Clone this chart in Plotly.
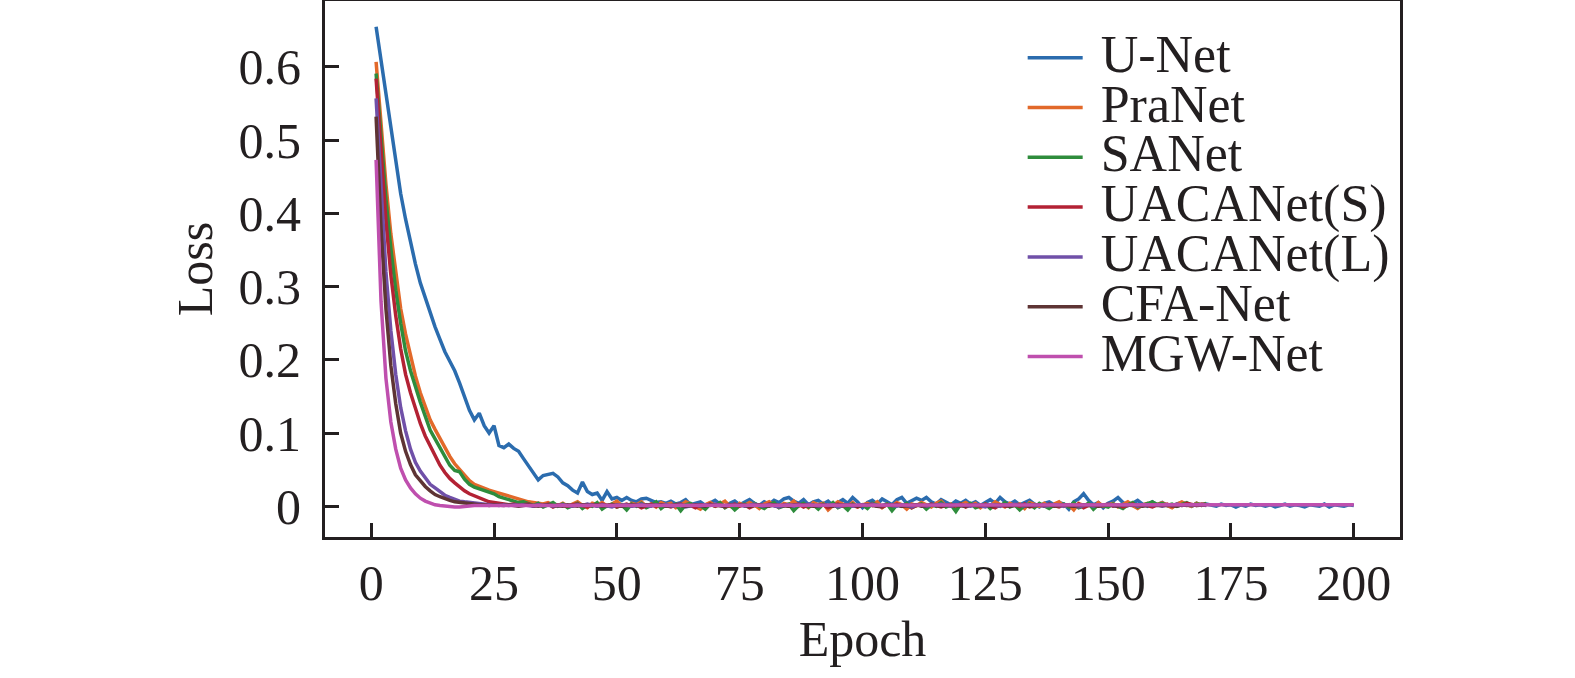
import numpy as np
import plotly.graph_objects as go

# loss values are written in thousandths (x 1e-3), one value per epoch starting at epoch 1
unet = [
    655, 610, 560, 512, 467, 427, 392, 360, 331, 305,
    284, 264, 245, 228, 211, 198, 185, 168, 150, 131,
    118, 127, 110, 100, 110, 83, 80, 85, 79, 75,
    65, 55, 45, 36, 42, 44, 45, 40, 32, 28,
    22, 18, 33, 20, 16, 18, 8, 20, 10, 12,
    8, 12, 8, 6, 10, 11, 8, 5, 6, 4,
    7, 3, 5, 9, 2, 4, 6, 1, 5, 8,
    3, 0, 4, 7, 2, 5, 9, 4, 1, 6,
    3, 8, 5, 10, 12, 7, 4, 9, 2, 6,
    8, 3, 7, 1, 5, 9, 4, 12, 6, -2,
    5, 8, 3, 10, 6, 2, 9, 12, 4, 7,
    11, 8, 12, 6, 3, 9, 5, 2, 7, 4,
    8, 3, 6, 1, 5, 9, 4, 12, 6, 3,
    7, 2, 5, 8, 3, -1, 4, 6, 2, 5,
    3, -4, 6, 10, 17, 8, 2, 5, -2, 4,
    7, 12, 5, 1, 4, 8, 3, 0, 6, 2,
    5, 1, -1, 3, 5, 2, 0, 4, 1, 3,
    2, 0, 3, 1, 2, -1, 2, 0, 3, 1,
    2, 0, 2, -1, 1, 3, 0, 2, 1, -1,
    2, 1, 0, 3, -1, 2, 1, 0, 2, 1,
]
pranet = [
    607, 520, 440, 372, 316, 270, 235, 205, 178, 155,
    135, 118, 105, 92, 80, 68, 58, 50, 42, 35,
    30, 27, 24, 22, 20, 18, 15, 13, 11, 9,
    7, 6, 5, 4, 3, 5, 2, 1, 4, 0,
    3, 6, 1, -2, 4, 2, 5, 0, 3, 7,
    1, -3, 4, 2, 6, 0, 3, -1, 5, 2,
    4, -2, 1, 6, 3, 0, -4, 2, 5, 1,
    3, 7, 0, -2, 4, 1, 5, 2, -3, 3,
    6, 1, -1, 4, 2, 7, 0, 3, -2, 5,
    2, 4, -5, 1, 6, 3, 0, 5, -1, 2,
    4, 1, 6, -2, 3, 0, 5, 2, -4, 3,
    1, 5, 2, -1, 4, 7, 0, 3, -3, 2,
    5, 1, 4, -2, 3, 0, 6, 2, -1, 4,
    1, 3, -3, 5, 2, 0, 4, -1, 3, 6,
    0, 2, -5, 4, 1, 3, -2, 5, 0, 2,
    4, -1, 3, 6, 1, -3, 2, 4, 0, 3,
    5, 1, -2, 3, 6, 2, 0, 4, 1, 3,
]
sanet = [
    591, 500, 420, 352, 295, 250, 212, 185, 162, 142,
    123, 104, 92, 80, 68, 56, 49, 47, 37, 30,
    26, 24, 22, 20, 17, 13, 11, 10, 8, 5,
    6, 3, 1, 4, -1, 2, 5, 0, 3, -2,
    1, 4, -3, 2, 0, 5, -4, 1, 3, -1,
    2, -5, 3, 0, 4, -2, 1, 6, -3, 2,
    0, 3, -6, 2, 4, -1, 1, -4, 3, 0,
    5, -2, 2, -5, 1, 3, -1, 4, 0, -3,
    2, 5, -2, 0, 3, -6, 1, 4, -1, 2,
    -4, 3, 0, 5, -2, 1, -5, 3, 0, 2,
    -3, 4, 1, -1, 3, -6, 2, 0, 4, -2,
    1, 3, -4, 2, 0, 5, -1, 2, -7, 3,
    0, 4, -2, 1, 3, -3, 2, 0, 5, -1,
    2, -5, 1, 3, -2, 4, 0, -3, 2, 1,
    3, -1, 5, -2, 0, 4, -4, 2, 1, -1,
    3, 0, -3, 2, 5, -1, 1, 3, 6, 2,
    4, 1, 3, 0, 2, 5, 1, 3, 2, 4,
]
uacanet_s = [
    584, 480, 390, 316, 260, 215, 180, 155, 132, 113,
    96, 82, 68, 56, 46, 38, 32, 26, 21, 17,
    14, 11, 8, 6, 5, 4, 3, 2, 3, 1,
    2, 3, 0, 2, 1, 3, -1, 2, 1, 0,
    2, 3, 1, -1, 2, 0, 3, 1, 2, -1,
    1, 3, 0, 2, -2, 1, 3, 0, 2, 1,
    -1, 2, 3, 0, 1, -2, 2, 1, 3, 0,
    2, -1, 1, 3, 0, 2, -2, 1, 2, 0,
    3, 1, -1, 2, 0, 1, 3, -1, 2, 1,
    0, 2, -2, 1, 3, 0, 2, 1, -1, 2,
    1, 3, 0, -1, 2, 1, 3, 0, 2, -2,
    1, 2, 0, 3, 1, -1, 2, 0, 1, 3,
    -1, 2, 1, 0, 3, 1, -2, 2, 0, 1,
    2, 0, 3, -1, 1, 2, 0, 3, 1, -1,
    2, 1, 0, 3, -2, 1, 2, 0, 1, 3,
    0, 2, -1, 1, 3, 0, 2, 1, -1, 2,
    1, 3, 0, 2, 1, 4, 2, 1, 3, 2,
]
uacanet_l = [
    557, 430, 320, 240, 180, 135, 103, 78, 60, 48,
    38, 30, 25, 20, 15, 12, 9, 7, 6, 5,
    4, 3, 3, 2, 2, 1, 2, 1, 2, 1,
    2, 1, 0, 2, 1, 2, 0, 1, 2, 1,
    0, 2, 1, 3, 1, 0, 2, 1, -1, 2,
    1, 2, 0, 1, 3, 1, 0, 2, 1, 2,
    0, 1, 2, -1, 1, 2, 0, 2, 1, 3,
    1, 0, 2, 1, 2, 0, 1, 3, 1, 0,
    2, 1, -1, 1, 2, 0, 2, 1, 3, 1,
    0, 2, 1, 2, -1, 1, 2, 0, 1, 2,
    1, 3, 0, 1, 2, 1, 0, 2, 1, -1,
    2, 1, 0, 2, 1, 3, 1, 0, 2, 1,
    1, 0, 2, 1, -1, 2, 1, 0, 2, 1,
    3, 1, 0, 2, 1, 2, 0, 1, 2, 1,
    0, 2, 1, -1, 1, 2, 0, 2, 1, 3,
    1, 0, 2, 1, 2, 0, 1, 2, 1, 2,
    0, 2, 1, 3, 1, 2, 1, 2, 2, 1,
]
cfanet = [
    532, 380, 270, 192, 140, 100, 75, 57, 43, 34,
    27, 21, 16, 13, 10, 8, 6, 5, 4, 3,
    3, 2, 2, 1, 2, 1, 1, 2, 1, 0,
    1, 2, 1, 0, 1, 2, 1, 1, 0, 2,
    1, 0, 2, 1, 1, 2, 0, 1, 2, 1,
    0, 1, 2, 1, 0, 2, 1, 1, 2, 0,
    1, 2, 1, 0, 1, 2, 1, 0, 2, 1,
    1, 0, 2, 1, 2, 1, 0, 1, 2, 1,
    0, 2, 1, 1, 0, 2, 1, 2, 1, 0,
    1, 2, 1, 0, 2, 1, 1, 2, 0, 1,
    2, 1, 0, 1, 2, 1, 2, 0, 1, 1,
    2, 0, 1, 2, 1, 0, 1, 2, 1, 1,
    0, 2, 1, 1, 2, 0, 1, 2, 1, 0,
    1, 2, 1, 0, 2, 1, 1, 2, 0, 1,
    2, 1, 0, 1, 2, 1, 2, 0, 1, 2,
    1, 0, 2, 1, 1, 2, 0, 1, 2, 1,
    1, 2, 1, 0, 2, 1, 2, 1, 2, 2,
]
mgwnet = [
    473, 280, 175, 115, 78, 52, 36, 25, 17, 11,
    7, 4, 2, 1, 0, -1, -1, -1, 0, 0,
    1, 1, 1, 2, 1, 2, 2, 1, 2, 2,
    2, 2, 1, 2, 2, 2, 1, 2, 2, 2,
    2, 1, 2, 2, 2, 2, 1, 2, 2, 2,
    2, 2, 2, 1, 2, 2, 2, 2, 1, 2,
    2, 2, 2, 2, 2, 1, 2, 2, 2, 2,
    1, 2, 2, 2, 2, 2, 2, 1, 2, 2,
    2, 2, 2, 1, 2, 2, 2, 2, 2, 1,
    2, 2, 2, 2, 2, 2, 1, 2, 2, 2,
    2, 1, 2, 2, 2, 2, 2, 2, 1, 2,
    2, 2, 2, 2, 1, 2, 2, 2, 2, 2,
    2, 2, 1, 2, 2, 2, 2, 2, 2, 1,
    2, 2, 2, 2, 2, 1, 2, 2, 2, 2,
    2, 2, 1, 2, 2, 2, 2, 2, 2, 2,
    1, 2, 2, 2, 2, 2, 2, 1, 2, 2,
    2, 2, 2, 2, 1, 2, 2, 2, 2, 2,
    2, 2, 2, 2, 2, 2, 2, 2, 2, 2,
    2, 2, 2, 2, 2, 2, 2, 2, 2, 2,
    2, 2, 2, 2, 2, 2, 2, 2, 2, 2,
]

names = ["U-Net", "PraNet", "SANet", "UACANet(S)", "UACANet(L)", "CFA-Net", "MGW-Net"]
series = [unet, pranet, sanet, uacanet_s, uacanet_l, cfanet, mgwnet]
colors = ["#2b6cae", "#e2692a", "#2e8c3c", "#b32234", "#7050a8", "#5e3434", "#bf4fae"]

x_ticks = [0, 25, 50, 75, 100, 125, 150, 175, 200]
y_ticks = [0, 0.1, 0.2, 0.3, 0.4, 0.5, 0.6]

FONT = "Liberation Serif, Times New Roman, serif"
INK = "#231f20"

fig = go.Figure()
for name, vals, col in zip(names, series, colors):
    y = np.array(vals) / 1000.0
    x = np.arange(1, len(y) + 1)
    fig.add_trace(go.Scatter(
        x=x, y=y, mode="lines",
        line=dict(color=col, width=3.5),
        # small legend font keeps rows tight, the span enlarges the visible text
        name='<span style="font-size:52px">&nbsp;' + name + "</span>",
    ))

fig.update_layout(
    width=1575, height=678,
    paper_bgcolor="white", plot_bgcolor="white",
    margin=dict(l=325, r=175, t=1, b=141),
    font=dict(family=FONT, size=50, color=INK),
    showlegend=True,
    legend=dict(
        x=0.649, y=0.95, xanchor="left", yanchor="top",
        font=dict(family=FONT, size=36, color=INK),
        bgcolor="rgba(0,0,0,0)", borderwidth=0,
        itemwidth=55, tracegroupgap=0,
    ),
)
fig.update_xaxes(
    range=[-9.4, 209.4], tickvals=x_ticks,
    showgrid=False, zeroline=False, automargin=False,
    showline=True, mirror=True, linewidth=3, linecolor=INK,
    ticks="inside", ticklen=14, tickwidth=3, tickcolor=INK,
    tickfont=dict(size=50), ticklabelstandoff=0,
    title=dict(text="Epoch", font=dict(size=50), standoff=4),
)
fig.update_yaxes(
    range=[-0.042, 0.69], tickvals=y_ticks,
    showgrid=False, zeroline=False, automargin=False,
    showline=True, mirror=True, linewidth=3, linecolor=INK,
    ticks="inside", ticklen=14, tickwidth=3, tickcolor=INK,
    tickfont=dict(size=50), ticklabelstandoff=11,
    title=dict(text="Loss", font=dict(size=50), standoff=11),
)

# drop the page's default 8px body margin so the figure sits at the window origin
fig.write_html(
    "out.html",
    config={"displayModeBar": False},
    post_script="document.body.style.margin='0';",
)
